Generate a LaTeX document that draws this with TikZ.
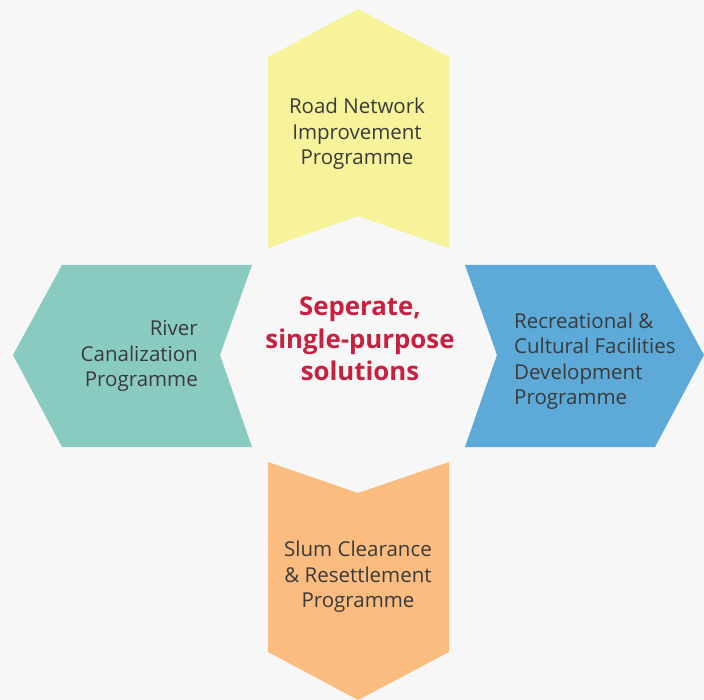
\documentclass[tikz,border=0pt]{standalone}
\usepackage{fontspec}
\setmainfont{Open Sans}
\definecolor{bg}{HTML}{F7F7F7}
\definecolor{cyel}{HTML}{F6F39A}
\definecolor{cteal}{HTML}{8ACBC1}
\definecolor{cblue}{HTML}{5DAAD8}
\definecolor{corange}{HTML}{FBBC80}
\definecolor{ctext}{HTML}{3A3A3A}
\definecolor{cred}{HTML}{C8203F}
\begin{document}
\begin{tikzpicture}[x=1pt,y=-1pt,
  lbl/.style={text=ctext,font=\fontsize{20.5}{25.5}\selectfont,inner sep=0pt},
  ctr/.style={text=cred,font=\fontsize{25.8}{32.5}\selectfont\bfseries,align=center,inner sep=0pt}]
\fill[bg] (0,0) rectangle (704,700);
\useasboundingbox (0,0) rectangle (704,700);
% top
\fill[cyel] (268,57) -- (358,9) -- (449,57) -- (449,248) -- (358,216) -- (268,248) -- cycle;
% left
\fill[cteal] (13,355) -- (62,265) -- (252,265) -- (220,355) -- (252,447) -- (62,447) -- cycle;
% right
\fill[cblue] (465,265) -- (655,265) -- (704,355) -- (655,447) -- (465,447) -- (497,355) -- cycle;
% bottom
\fill[corange] (268,462) -- (358,493) -- (449,462) -- (449,652) -- (358,700) -- (268,652) -- cycle;
\node[lbl,align=center] (top) at (357,134) {Road Network\\Improvement\\Programme};
\node[lbl,align=right,anchor=east] (left) at (198,356) {River\\Canalization\\Programme};
\node[lbl,align=left,anchor=west] (right) at (514,361) {Recreational \&\\Cultural Facilities\\Development\\Programme};
\node[lbl,align=center] (bottom) at (358,577) {Slum Clearance\\\& Resettlement\\Programme};
\node[ctr] (center) at (360,339) {Seperate,\\single-purpose\\solutions};
\end{tikzpicture}
\end{document}
